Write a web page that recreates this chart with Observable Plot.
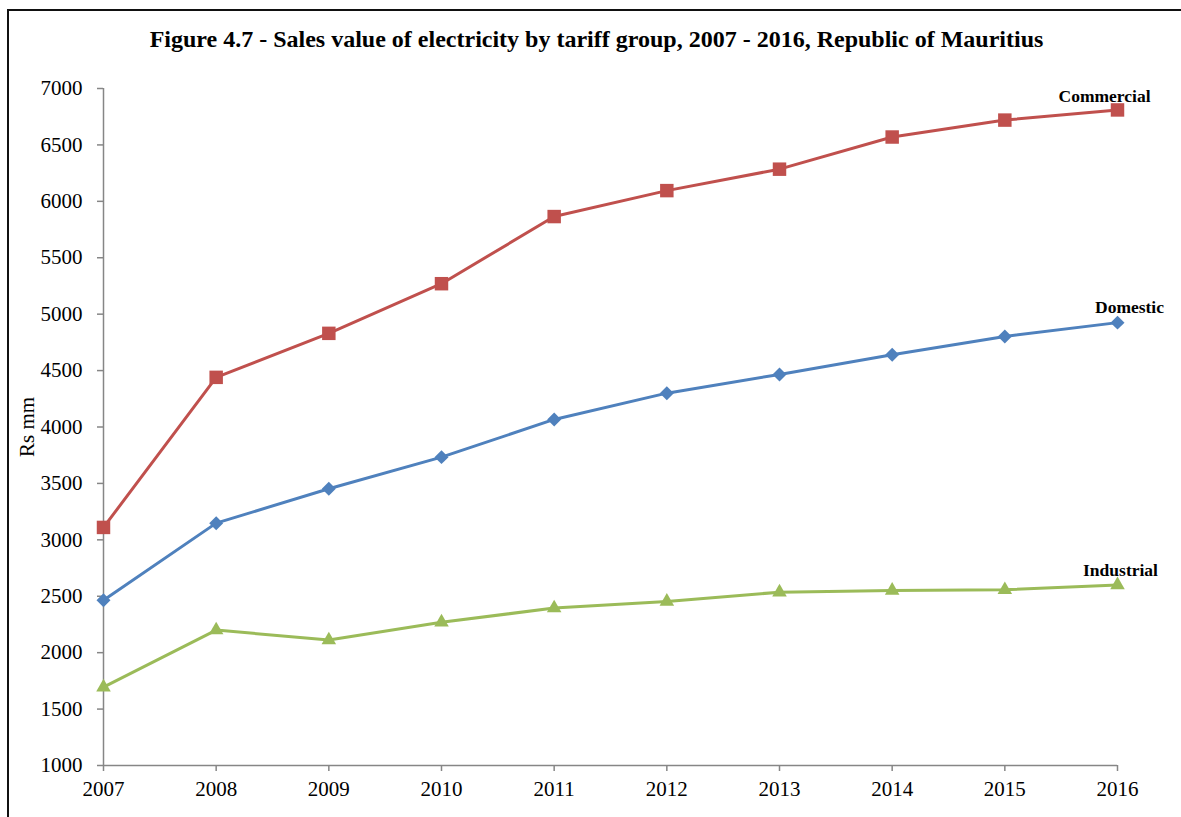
<!DOCTYPE html>
<html>
<head>
<meta charset="utf-8">
<script src="https://cdn.jsdelivr.net/npm/d3@7"></script>
<script src="https://cdn.jsdelivr.net/npm/@observablehq/plot@0.6"></script>
<style>
  html, body { margin: 0; padding: 0; background: #fff; overflow: hidden; }
  body { width: 1181px; height: 817px; position: relative; }
  #frame {
    position: absolute; left: 7px; top: 9px; width: 1200px; height: 850px;
    border-left: 2px solid #111; border-top: 2px solid #111;
  }
  #title {
    position: absolute; top: 27px; left: 6px; width: 1181px; text-align: center;
    font-family: "Liberation Serif", "Times New Roman", serif; font-weight: bold;
    font-size: 24px; line-height: 24px; color: #000;
  }
  #chart { position: absolute; left: 0; top: 60px; }
</style>
</head>
<body>
<div id="frame"></div>
<div id="title">Figure 4.7 - Sales value of electricity by tariff group, 2007 - 2016, Republic of Mauritius</div>
<div id="chart"></div>
<script>
// Sales value of electricity (Rs mm) by tariff group
const years = [2007, 2008, 2009, 2010, 2011, 2012, 2013, 2014, 2015, 2016];
const commercial = [3110, 4440, 4830, 5270, 5865, 6095, 6285, 6570, 6720, 6810];
const domestic = [2465, 3148, 3453, 3733, 4067, 4300, 4466, 4641, 4803, 4925];
const industrial = [1694, 2200, 2112, 2270, 2395, 2454, 2536, 2551, 2557, 2600];
const yTicks = [1000, 1500, 2000, 2500, 3000, 3500, 4000, 4500, 5000, 5500, 6000, 6500, 7000];

const seriesNames = ["Commercial", "Domestic", "Industrial"];
const seriesValues = [commercial, domestic, industrial];
const seriesColors = ["#C0504D", "#4F81BD", "#9BBB59"];
const seriesSymbols = ["square", "diamond2", "triangle"];
const seriesRadius = [7.6, 6.3, 5.4];
const labelDx = [-13, 12, 3];
const labelDy = [-14, -15, -15];

const rows = seriesNames.flatMap((name, i) =>
  years.map((year, j) => ({series: name, year, value: seriesValues[i][j]}))
);

const serif = "Liberation Serif, Times New Roman, serif";
const axisGrey = "#868686";

const marks = [
  Plot.ruleY([1000], {stroke: axisGrey, strokeWidth: 1.5}),
  Plot.ruleX([2007], {stroke: axisGrey, strokeWidth: 1.5}),
  Plot.axisY({ticks: yTicks, tickFormat: d3.format("d"), tickSize: 6, tickPadding: 15,
    stroke: axisGrey, strokeWidth: 1.5, fill: "#000", fontSize: 21, label: null}),
  Plot.axisX({ticks: years, tickFormat: d => String(d), tickSize: 6, tickPadding: 10,
    stroke: axisGrey, strokeWidth: 1.5, fill: "#000", fontSize: 21, label: null}),
  Plot.text(["Rs mm"], {frameAnchor: "left", textAnchor: "middle", dx: -76, rotate: -90,
    fontSize: 21, fill: "#000", fontFamily: serif})
];

seriesNames.forEach((name, i) => {
  const data = rows.filter(d => d.series === name);
  marks.push(
    Plot.line(data, {x: "year", y: "value", stroke: seriesColors[i], strokeWidth: 3}),
    Plot.dot(data, {x: "year", y: "value", symbol: () => seriesSymbols[i],
      r: seriesRadius[i], fill: seriesColors[i], stroke: "none"}),
    Plot.text(data.slice(-1), {x: "year", y: "value", text: () => name,
      dx: labelDx[i], dy: labelDy[i], fontWeight: "bold", fontSize: 17.5,
      fill: "#000", fontFamily: serif, textAnchor: "middle"})
  );
});

const chart = Plot.plot({
  width: 1181,
  height: 757,
  marginLeft: 103,
  marginRight: 64,
  marginTop: 28,
  marginBottom: 52,
  style: {fontFamily: serif, fontSize: "21px", background: "transparent", color: "#000"},
  x: {domain: [2007, 2016]},
  y: {domain: [1000, 7000]},
  symbol: {type: "identity"},
  marks
});
document.getElementById("chart").appendChild(chart);
</script>
</body>
</html>
